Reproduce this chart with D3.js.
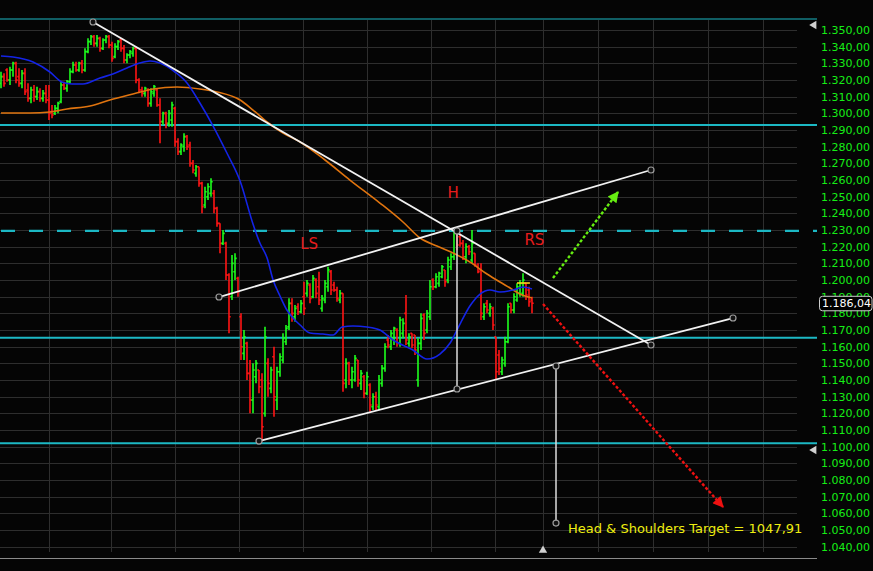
<!DOCTYPE html>
<html><head><meta charset="utf-8">
<script src="https://cdn.jsdelivr.net/npm/d3@7"></script>
<style>
html,body{margin:0;padding:0;background:#050505;overflow:hidden;}
svg{display:block;}
</style></head><body>
<svg id="chart" width="873" height="571"></svg>
<script>
// ---------- DATA ----------
const opens=[1318,1322,1326,1320,1326,1330,1322,1318,1324,1314,1309,1314,1310,1313,1309,1312,1308,1301,1300,1303,1307,1317,1315,1319,1325,1329,1326,1330,1326,1337,1343,1346,1342,1345,1339,1344,1346,1341,1334,1340,1344,1339,1332,1335,1336,1339,1320,1314,1312,1314,1306,1312,1314,1305,1295,1300,1294,1296,1303,1283,1277,1280,1286,1281,1270,1264,1268,1258,1245,1250,1252,1252,1243,1234,1222,1222,1203,1190,1205,1201,1178,1156,1162,1144,1128,1142,1146,1140,1120,1150,1135,1154,1128,1145,1152,1163,1172,1186,1178,1184,1181,1190,1192,1197,1190,1200,1196,1183,1188,1196,1205,1197,1194,1188,1192,1140,1150,1140,1140,1152,1138,1142,1132,1137,1124,1130,1124,1138,1147,1164,1160,1165,1170,1162,1168,1180,1162,1168,1167,1140,1162,1179,1170,1178,1200,1196,1198,1202,1206,1200,1208,1214,1228,1226,1222,1214,1220,1212,1216,1208,1206,1178,1186,1180,1183,1166,1155,1145,1150,1163,1186,1182,1188,1192,1192,1198,1194,1188];
const highs=[1325,1324,1327,1328,1331,1331,1327,1326,1327,1318,1316,1317,1316,1315,1314,1317,1317,1305,1305,1307,1319,1319,1320,1327,1331,1331,1331,1332,1339,1345,1347,1347,1347,1346,1345,1347,1347,1343,1342,1344,1345,1341,1336,1338,1340,1340,1321,1316,1316,1315,1315,1317,1315,1309,1301,1301,1302,1307,1304,1285,1282,1288,1287,1283,1272,1269,1268,1259,1256,1258,1261,1254,1244,1234,1230,1223,1204,1215,1216,1202,1180,1170,1163,1152,1150,1152,1146,1144,1172,1153,1148,1160,1148,1156,1168,1173,1189,1189,1185,1186,1188,1199,1200,1198,1203,1201,1205,1191,1200,1208,1206,1199,1196,1194,1192,1153,1151,1148,1155,1152,1146,1143,1145,1138,1132,1133,1143,1149,1162,1167,1170,1172,1171,1178,1177,1191,1168,1168,1167,1165,1180,1180,1182,1200,1201,1204,1205,1209,1206,1214,1216,1230,1230,1228,1224,1222,1221,1230,1216,1210,1210,1186,1188,1186,1184,1166,1158,1154,1166,1186,1186,1192,1198,1200,1204,1198,1196,1190];
const lows=[1315,1316,1319,1317,1322,1318,1316,1315,1311,1307,1306,1307,1308,1307,1307,1306,1296,1297,1299,1300,1306,1314,1313,1318,1324,1325,1325,1324,1325,1336,1341,1340,1340,1337,1338,1342,1339,1331,1333,1338,1337,1330,1330,1333,1334,1318,1312,1310,1310,1304,1304,1310,1304,1282,1293,1291,1292,1292,1280,1275,1275,1277,1278,1268,1264,1262,1256,1240,1243,1248,1250,1240,1232,1216,1221,1200,1168,1188,1200,1190,1152,1152,1140,1120,1120,1138,1132,1103,1118,1130,1132,1118,1122,1142,1150,1161,1170,1175,1175,1179,1180,1179,1190,1186,1189,1189,1185,1181,1186,1193,1191,1193,1187,1186,1133,1135,1137,1135,1139,1136,1134,1129,1131,1121,1122,1122,1122,1136,1145,1159,1158,1161,1160,1160,1165,1161,1160,1159,1155,1136,1158,1164,1168,1176,1194,1195,1196,1201,1196,1198,1206,1212,1218,1220,1212,1210,1215,1210,1208,1204,1176,1176,1180,1178,1170,1140,1143,1143,1148,1162,1180,1180,1187,1190,1190,1188,1184,1180];
const closes=[1322,1318,1320,1326,1330,1320,1318,1324,1313,1309,1314,1310,1313,1309,1312,1308,1300,1299,1303,1306,1317,1315,1319,1325,1329,1326,1330,1326,1337,1343,1346,1342,1345,1339,1344,1346,1341,1333,1340,1343,1339,1332,1335,1337,1339,1320,1314,1312,1315,1306,1313,1316,1305,1295,1300,1294,1300,1305,1283,1277,1281,1286,1280,1270,1266,1268,1258,1244,1253,1256,1259,1243,1234,1222,1228,1203,1178,1210,1213,1193,1160,1166,1144,1128,1146,1150,1136,1112,1166,1138,1146,1130,1145,1154,1165,1171,1186,1180,1183,1181,1186,1183,1198,1189,1201,1192,1188,1189,1198,1206,1194,1194,1189,1192,1138,1150,1140,1145,1153,1140,1144,1132,1142,1125,1130,1125,1140,1147,1160,1161,1168,1171,1162,1176,1174,1164,1166,1161,1158,1162,1177,1168,1180,1196,1196,1202,1204,1208,1199,1212,1214,1228,1221,1222,1214,1220,1217,1222,1209,1205,1180,1184,1182,1184,1173,1145,1147,1152,1163,1184,1182,1190,1196,1198,1200,1191,1187,1186.04];

// moving averages: [bar index, value]
const fastMA=[[0,1334.4],[4,1333.8],[10.7,1330.8],[16.3,1324.8],[20.3,1318.8],[23.7,1317.6],[27.3,1317.6],[33,1321.2],[37.3,1323.6],[42,1327.2],[46.3,1330.2],[49.7,1331.4],[53,1330.2],[58,1324.8],[62,1318.2],[66.3,1306.2],[70.7,1292.4],[75.3,1276.2],[79.7,1259.4],[84,1233.6],[86.3,1222.2],[88.7,1213.2],[90.7,1200],[93,1190.4],[95.3,1182],[97.3,1177.2],[99.7,1173],[103,1168.2],[107.3,1167.6],[110.7,1167],[113.7,1171.8],[117.3,1172.4],[122,1171.8],[126.3,1170],[130.7,1164],[137.3,1158],[142,1152.6],[146.3,1155.6],[149.7,1162.2],[153,1173.6],[156.3,1184.4],[159.7,1191.6],[163,1194],[166.3,1192.8],[170.7,1194],[174,1195.8],[177,1194.6]];
const slowMA=[[0,1300.2],[9.7,1300.2],[16.3,1300.8],[22,1302.6],[29.7,1304.4],[36.3,1308],[44,1311.6],[50.7,1314.6],[58.7,1315.8],[66.3,1314.6],[72,1312.8],[79.7,1308],[84,1302],[88.7,1294.8],[94,1288.2],[99.7,1282.8],[108,1272],[116.3,1260],[126.3,1246.2],[134,1234.8],[139.7,1225.2],[145.3,1220.4],[150.7,1216.2],[156.3,1210.8],[162,1203.6],[166.3,1198.8],[169.7,1195.2],[173,1191.6],[177,1189.2]];

// axis ticks
const yTicks=d3.range(1040,1351,10);
const xTicks=[16,36.67,58,79.33,100.67,122,143.33,164.67,180.67,199,217.33,235.67,254];

// horizontal levels
const solidLevels=[1293,1165.3,1102];
const topLevel=1356.6;
const dashedLevel=1229.5;

// drawn trend lines [start, end] as [bar index, price]
const trendLines=[
  [[30.67,1354.8],[216.67,1161]],
  [[72.67,1189.8],[216.67,1266]],
  [[86,1103.4],[244,1177.2]]
];
const measureLines=[
  [[152,1229.4],[152,1134.6]],
  [[185,1148.4],[185,1054.2]]
];
const upArrow=[[184,1201.2],[205.67,1252.8]];
const downArrow=[[180.67,1185.6],[240.67,1063.8]];
const patternLabels=["LS","H","RS"];
const patternAt=[[102.7,1218.6],[150.7,1249.2],[177.8,1221]];
const targetText="Head & Shoulders Target = 1047,91";
const targetAt=[189,1048.2];
const lastPrice=1186.04;
const highMark=[[172,1198.2],[176.3,1198.2]];

// ---------- DRAW ----------
const W=873,H=571;
const svg=d3.select('#chart');
svg.append('rect').attr('width',W).attr('height',H).attr('fill','#050505');

const x=d3.scaleLinear().domain([0,272]).range([1,817]);
const y=d3.scaleLinear().domain([1040,1350]).range([546.7,30]);
const px=v=>Math.round(v)+0.5;

// grid
const grid=svg.append('g').attr('stroke','#2e2e2e').attr('stroke-width',1).attr('shape-rendering','crispEdges');
grid.selectAll('line.h').data(yTicks).join('line').attr('class','h')
  .attr('x1',0).attr('x2',797).attr('y1',d=>px(y(d))).attr('y2',d=>px(y(d)));
grid.selectAll('line.v').data(xTicks).join('line').attr('class','v')
  .attr('x1',d=>px(x(d))).attr('x2',d=>px(x(d))).attr('y1',20).attr('y2',552);

// bottom border
svg.append('line').attr('x1',0).attr('x2',817).attr('y1',558.5).attr('y2',558.5).attr('stroke','#8a8a8a').attr('stroke-width',1.2);

// cyan levels
const cyan='#1cb8c4';
svg.append('line').attr('x1',0).attr('x2',817).attr('y1',y(topLevel)).attr('y2',y(topLevel)).attr('stroke',cyan).attr('stroke-width',1.2);
svg.selectAll('line.lvl').data(solidLevels).join('line').attr('class','lvl')
  .attr('x1',0).attr('x2',817).attr('y1',d=>y(d)).attr('y2',d=>y(d)).attr('stroke',cyan).attr('stroke-width',2);
svg.append('line').attr('x1',0).attr('x2',817).attr('y1',y(dashedLevel)).attr('y2',y(dashedLevel))
  .attr('stroke',cyan).attr('stroke-width',2.2).attr('stroke-dasharray','14,14').attr('stroke-dashoffset',-1);

// OHLC bars
const data=closes.map((c,i)=>({i,o:opens[i],h:highs[i],l:lows[i],c}));
const bg=svg.append('g').selectAll('g').data(data).join('g')
  .attr('stroke',d=>d.c>=d.o?'#1cff1c':'#ff1414').attr('stroke-width',1.6);
bg.append('line').attr('x1',d=>x(d.i)).attr('x2',d=>x(d.i)).attr('y1',d=>y(d.h)).attr('y2',d=>y(d.l));
bg.append('line').attr('x1',d=>x(d.i)-1.7).attr('x2',d=>x(d.i)).attr('y1',d=>y(d.o)).attr('y2',d=>y(d.o));
bg.append('line').attr('x1',d=>x(d.i)).attr('x2',d=>x(d.i)+1.7).attr('y1',d=>y(d.c)).attr('y2',d=>y(d.c));

// moving averages
const maLine=d3.line().x(d=>x(d[0])).y(d=>y(d[1])).curve(d3.curveMonotoneX);
svg.append('path').attr('d',maLine(slowMA)).attr('fill','none').attr('stroke','#e0740f').attr('stroke-width',1.6);
svg.append('path').attr('d',maLine(fastMA)).attr('fill','none').attr('stroke','#1424e6').attr('stroke-width',1.6);

// high marker
svg.append('line').attr('x1',x(highMark[0][0])).attr('x2',x(highMark[1][0])).attr('y1',y(highMark[0][1])).attr('y2',y(highMark[1][1]))
  .attr('stroke','#ffd21a').attr('stroke-width',1.6);

// trend lines
svg.selectAll('line.tr').data(trendLines).join('line').attr('class','tr')
  .attr('x1',d=>x(d[0][0])).attr('y1',d=>y(d[0][1])).attr('x2',d=>x(d[1][0])).attr('y2',d=>y(d[1][1]))
  .attr('stroke','#f2f2f2').attr('stroke-width',1.8);
svg.selectAll('line.ms').data(measureLines).join('line').attr('class','ms')
  .attr('x1',d=>x(d[0][0])).attr('y1',d=>y(d[0][1])).attr('x2',d=>x(d[1][0])).attr('y2',d=>y(d[1][1]))
  .attr('stroke','#dcdcdc').attr('stroke-width',1.5);
const ends=trendLines.concat(measureLines).flat();
svg.selectAll('circle.end').data(ends).join('circle').attr('class','end')
  .attr('cx',d=>x(d[0])).attr('cy',d=>y(d[1])).attr('r',3)
  .attr('fill','#111').attr('stroke','#9c9c9c').attr('stroke-width',1.2);

// arrows
const defs=svg.append('defs');
[['gh','#66ee11'],['rh','#ee1111']].forEach(([id,col])=>{
  defs.append('marker').attr('id',id).attr('viewBox','0 0 10 10').attr('refX',9).attr('refY',5)
    .attr('markerWidth',13).attr('markerHeight',11).attr('markerUnits','userSpaceOnUse').attr('orient','auto')
    .append('path').attr('d','M0,0 L10,5 L0,10 Z').attr('fill',col);
});
svg.append('line').attr('x1',x(upArrow[0][0])).attr('y1',y(upArrow[0][1])).attr('x2',x(upArrow[1][0])).attr('y2',y(upArrow[1][1]))
  .attr('stroke','#66ee11').attr('stroke-width',2.4).attr('stroke-dasharray','3,2').attr('marker-end','url(#gh)');
svg.append('line').attr('x1',x(downArrow[0][0])).attr('y1',y(downArrow[0][1])).attr('x2',x(downArrow[1][0])).attr('y2',y(downArrow[1][1]))
  .attr('stroke','#ee1111').attr('stroke-width',2.4).attr('stroke-dasharray','3,2').attr('marker-end','url(#rh)');

// pattern labels
svg.selectAll('text.pl').data(patternLabels).join('text').attr('class','pl')
  .attr('x',(d,i)=>x(patternAt[i][0])).attr('y',(d,i)=>y(patternAt[i][1]))
  .attr('text-anchor','middle').attr('fill','#e81c1c')
  .style('font-family','"DejaVu Sans", sans-serif').style('font-size','15px').text(d=>d);

svg.append('text').attr('x',x(targetAt[0])).attr('y',y(targetAt[1])).attr('fill','#eeee10')
  .style('font-family','"DejaVu Sans", sans-serif').style('font-size','13px').text(targetText);

// y axis
const loc=d3.formatLocale({decimal:',',thousands:'.',grouping:[3],currency:['','']});
const fmt=loc.format(',.2f');
const yAxis=d3.axisRight(y).tickValues(yTicks).tickSize(0).tickPadding(4).tickFormat(fmt);
const ax=svg.append('g').attr('transform','translate(817,0)').call(yAxis);
ax.select('.domain').remove();
ax.selectAll('text').attr('fill','#16ee16').style('font-family','"DejaVu Sans", sans-serif').style('font-size','11px');

// last price box
const ly=y(lastPrice);
svg.append('rect').attr('x',819.5).attr('y',ly-7).attr('width',52.5).attr('height',14.5).attr('rx',3)
  .attr('fill','#000').attr('stroke','#cfcfcf').attr('stroke-width',1);
svg.append('text').attr('x',822).attr('y',ly).attr('dy','0.36em').attr('fill','#ffffff')
  .style('font-family','"DejaVu Sans", sans-serif').style('font-size','11px').text(fmt(lastPrice));

// small markers
const tri=d3.symbol().type(d3.symbolTriangle).size(30);
[1353,1098].forEach(p=>{
  svg.append('path').attr('d',tri()).attr('fill','#d0d0d0')
    .attr('transform',`translate(${x(272)-3},${y(p)}) rotate(-90)`);
});
svg.append('path').attr('d',tri()).attr('fill','#d0d0d0').attr('transform',`translate(${x(180.67)},${y(1037.8)})`);
</script>
</body></html>
